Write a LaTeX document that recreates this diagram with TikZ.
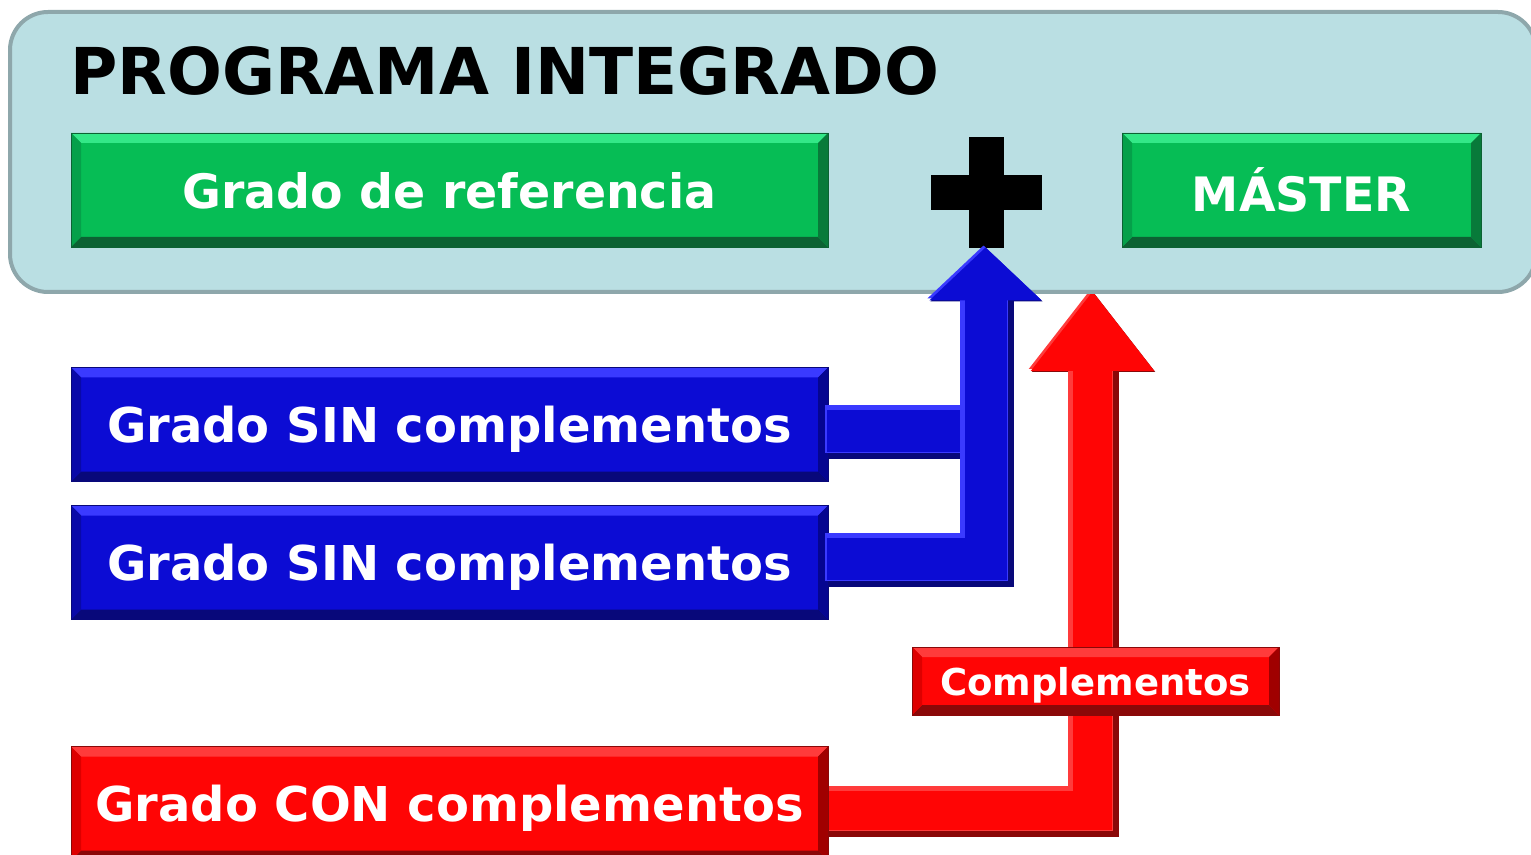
\documentclass[tikz,border=0pt]{standalone}
\usepackage{fontspec}
\setmainfont{DejaVu Sans}
\usetikzlibrary{positioning,arrows.meta,backgrounds}

\definecolor{pnlfill}{HTML}{BADFE3}
\definecolor{pnlline}{HTML}{8EA7AB}
\definecolor{grnfill}{HTML}{06BD55}
\definecolor{grntop}{HTML}{33E887}
\definecolor{grnleft}{HTML}{05A04A}
\definecolor{grnbot}{HTML}{0C6233}
\definecolor{grnright}{HTML}{087A3A}
\definecolor{blufill}{HTML}{0C0CD4}
\definecolor{blutop}{HTML}{3A3AFF}
\definecolor{bluleft}{HTML}{0909A8}
\definecolor{blubot}{HTML}{08087A}
\definecolor{bluright}{HTML}{050590}
\definecolor{redfill}{HTML}{FF0505}
\definecolor{redtop}{HTML}{FF3B3B}
\definecolor{redleft}{HTML}{DD0000}
\definecolor{redbot}{HTML}{8A0808}
\definecolor{redright}{HTML}{A00000}

\begin{document}
\begin{tikzpicture}[x=0.5pt,y=-0.5pt]

\tikzset{
	bevel/.style n args={5}{
		fill=#1,
		draw=#4,
		line width=0.4pt,
		rectangle,
		inner sep=0pt,
		outer sep=0pt,
		text=white,
		text depth=0pt,
		path picture={
			\fill[#2] (path picture bounding box.north west) -- (path picture bounding box.north east)
				-- ([shift={(-5pt,-5pt)}]path picture bounding box.north east) -- ([shift={(5pt,-5pt)}]path picture bounding box.north west) -- cycle;
			\fill[#4] (path picture bounding box.south west) -- (path picture bounding box.south east)
				-- ([shift={(-5pt,5pt)}]path picture bounding box.south east) -- ([shift={(5pt,5pt)}]path picture bounding box.south west) -- cycle;
			\fill[#3] (path picture bounding box.north west) -- ([shift={(5pt,-5pt)}]path picture bounding box.north west)
				-- ([shift={(5pt,5pt)}]path picture bounding box.south west) -- (path picture bounding box.south west) -- cycle;
			\fill[#5] (path picture bounding box.north east) -- ([shift={(-5pt,-5pt)}]path picture bounding box.north east)
				-- ([shift={(-5pt,5pt)}]path picture bounding box.south east) -- (path picture bounding box.south east) -- cycle;
		}},
	panel/.style={
		draw=pnlline,
		fill=pnlfill,
		line width=2pt,
		rounded corners=19pt,
		minimum width=763pt,
		minimum height=140pt,
		inner sep=0pt,
		outer sep=0pt},
	boxg/.style={
		bevel={grnfill}{grntop}{grnleft}{grnbot}{grnright},
		font=\bfseries\fontsize{23.7}{28}\selectfont,
		minimum height=57pt},
	boxb/.style={
		bevel={blufill}{blutop}{bluleft}{blubot}{bluright},
		font=\bfseries\fontsize{24}{28}\selectfont,
		minimum width=378.5pt,
		minimum height=57pt},
	boxr/.style={
		bevel={redfill}{redtop}{redleft}{redbot}{redright},
		font=\bfseries\fontsize{24}{28}\selectfont,
		minimum width=378.5pt,
		minimum height=57pt},
	connb/.style={
		line width=27pt,
		draw=blubot,
		-{Triangle[width=54.5pt,length=26.5pt]},
		postaction={draw=blutop, line width=24pt, transform canvas={shift={(-1.5pt,1.5pt)}}},
		postaction={draw=blufill, line width=21pt, transform canvas={shift={(-0.5pt,0.5pt)}}}},
	connr/.style={
		line width=25.5pt,
		draw=redbot,
		-{Triangle[width=59pt,length=40pt]},
		postaction={draw=redtop, line width=22.5pt, transform canvas={shift={(-1.5pt,1.5pt)}}},
		postaction={draw=redfill, line width=19.5pt, transform canvas={shift={(-0.5pt,0.5pt)}}}}
}

\useasboundingbox (0,0) rectangle (1531,855);

\node[panel] (prog) at (773,152) {};
\node[anchor=base west,font=\bfseries\fontsize{32.3}{40}\selectfont] (title) at (63,95) {PROGRAMA INTEGRADO};

\node[boxg,minimum width=378.5pt] (ref) at (449.5,190) {Grado de referencia};
\node[boxg,minimum width=179.5pt,right=147pt of ref] (master) {MÁSTER};

\node[minimum size=55.5pt,inner sep=0pt] (plus) at (986.5,192.5) {};
\fill[black] ([xshift=-8.75pt]plus.north) rectangle ([xshift=8.75pt]plus.south);
\fill[black] ([yshift=8.75pt]plus.west) rectangle ([yshift=-8.75pt]plus.east);

\node[boxb] (sin1) at (449.5,424.5) {Grado SIN complementos};
\node[boxb,below=12pt of sin1] (sin2) {Grado SIN complementos};
\node[boxr,below=63.5pt of sin2] (con) {Grado CON complementos};

% blue arrow to the plus
\draw[connb,-] ([yshift=-3.75pt]sin1.east) -- ([yshift=-3.75pt]sin1.east -| plus.south);
\draw[connb] ([yshift=1.25pt]sin2.east) -| (plus.south);

% red arrow with its label
\node[boxr,minimum width=183.5pt,minimum height=34pt,font=\bfseries\fontsize{18.5}{22}\selectfont] (cmpl) at (1095.5,681) {Complementos};
\begin{scope}[on background layer]
\draw[connr] ([yshift=-3.75pt]con.east) -| ([xshift=-1pt]prog.south -| cmpl.center);
\end{scope}

\end{tikzpicture}
\end{document}
